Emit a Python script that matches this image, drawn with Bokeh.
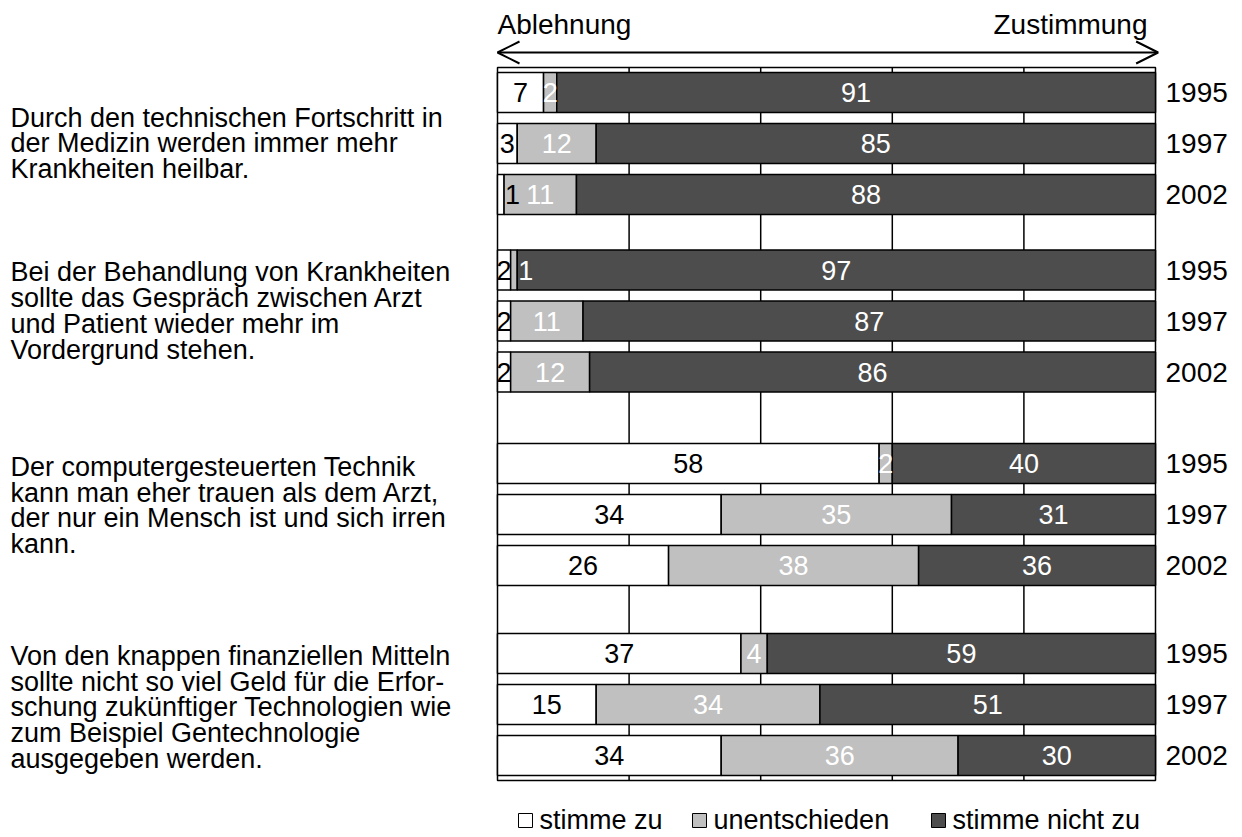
from bokeh.plotting import figure
from bokeh.models import Range1d, ColumnDataSource, Arrow, OpenHead
from bokeh.core.properties import value
from bokeh.embed import file_html
from bokeh.resources import INLINE

# ---------------- data ----------------
statements = [
    "Durch den technischen Fortschritt in\nder Medizin werden immer mehr\nKrankheiten heilbar.",
    "Bei der Behandlung von Krankheiten\nsollte das Gespräch zwischen Arzt\nund Patient wieder mehr im\nVordergrund stehen.",
    "Der computergesteuerten Technik\nkann man eher trauen als dem Arzt,\nder nur ein Mensch ist und sich irren\nkann.",
    "Von den knappen finanziellen Mitteln\nsollte nicht so viel Geld für die Erfor-\nschung zukünftiger Technologien wie\nzum Beispiel Gentechnologie\nausgegeben werden.",
]
years = ["1995", "1997", "2002"]
series = ["stimme zu", "unentschieden", "stimme nicht zu"]
# values per statement, per year
stimme_zu = [[7, 3, 1], [2, 2, 2], [58, 34, 26], [37, 15, 34]]
unentschieden = [[2, 12, 11], [1, 11, 12], [2, 35, 38], [4, 34, 36]]
stimme_nicht_zu = [[91, 85, 88], [97, 87, 86], [40, 31, 36], [59, 51, 30]]
header_left = "Ablehnung"
header_right = "Zustimmung"

# ---------------- style / layout ----------------
W, H = 1242, 837
FONT = value("Liberation Sans")
colors = ["#ffffff", "#c0c0c0", "#4d4d4d"]
text_colors = ["#000000", "#ffffff", "#ffffff"]
X0_PX, X1_PX = 497, 1155          # pixel positions of 0 % and 100 %
PX_PER = (X1_PX - X0_PX) / 100.0
group_first = [92, 269.5, 463, 653]  # pixel centre of first bar in each group
text_shift = [0, -10, -9, 3]         # statement block offset from middle bar
ROW = 51
BAR_H = 40
FRAME_TOP, FRAME_BOT = 67, 780


def px_to_x(px):
    return (px - X0_PX) / PX_PER


p = figure(width=W, height=H, output_backend="svg", toolbar_location=None,
           x_range=Range1d(px_to_x(0), px_to_x(W)), y_range=Range1d(H, 0),
           min_border=0)
p.axis.visible = False
p.grid.visible = False
p.outline_line_color = None
p.background_fill_color = "white"
p.border_fill_color = "white"

# gridlines + frame
for gx in [20, 40, 60, 80]:
    p.segment(x0=[gx], y0=[FRAME_TOP], x1=[gx], y1=[FRAME_BOT], line_color="black", line_width=1.5)
p.quad(left=[0], right=[100], top=[FRAME_TOP], bottom=[FRAME_BOT], fill_color=None,
       line_color="black", line_width=1.5)

# bars
rows = dict(y=[], left=[], right=[], color=[], val=[], tcol=[], tx=[], s=[])
year_rows = dict(y=[], t=[])
stmt_rows = dict(y=[], t=[])
for g in range(len(statements)):
    for i, yr in enumerate(years):
        yc = group_first[g] + i * ROW
        vals = [stimme_zu[g][i], unentschieden[g][i], stimme_nicht_zu[g][i]]
        cum = 0
        for k, v in enumerate(vals):
            rows["y"].append(yc)
            rows["left"].append(cum)
            rows["right"].append(cum + v)
            rows["color"].append(colors[k])
            rows["val"].append(str(v))
            rows["tcol"].append(text_colors[k])
            rows["tx"].append(cum + v / 2.0)
            rows["s"].append(v)
            cum += v
        year_rows["y"].append(yc)
        year_rows["t"].append(yr)
    stmt_rows["y"].append(group_first[g] + ROW + text_shift[g])
    stmt_rows["t"].append(statements[g])

src = ColumnDataSource(rows)
p.hbar(y="y", left="left", right="right", height=BAR_H, fill_color="color",
       line_color="black", line_width=1.5, source=src)

big = {k: [v for v, s in zip(rows[k], rows["s"]) if s > 1] for k in rows}
small = {k: [v for v, s in zip(rows[k], rows["s"]) if s <= 1] for k in rows}
p.text(x="tx", y="y", text="val", text_color="tcol", text_font=FONT, text_font_size="27px",
       text_align="center", text_baseline="middle", source=ColumnDataSource(big))
p.text(x="right", y="y", text="val", text_color="tcol", text_font=FONT, text_font_size="27px",
       text_align="left", text_baseline="middle", x_offset=1, source=ColumnDataSource(small))

# year labels
p.text(x=px_to_x(1165), y="y", text="t", text_font=FONT, text_font_size="28px",
       text_color="black", text_align="left", text_baseline="middle",
       source=ColumnDataSource(year_rows))

# statements
p.text(x=px_to_x(10), y="y", text="t", text_font=FONT, text_font_size="27px",
       text_color="black", text_align="left", text_baseline="middle", text_line_height=0.86,
       source=ColumnDataSource(stmt_rows))

# header arrow and labels
p.add_layout(Arrow(start=OpenHead(size=22, line_width=2), end=OpenHead(size=22, line_width=2),
                   x_start=0, y_start=52, x_end=100.4, y_end=52, line_width=2))
p.text(x=[0], y=[24], text=[header_left], text_font=FONT, text_font_size="28px",
       text_align="left", text_baseline="middle")
p.text(x=[px_to_x(1147)], y=[24], text=[header_right], text_font=FONT, text_font_size="28px",
       text_align="right", text_baseline="middle")

# legend
leg_box_px = [525, 699, 938]
p.scatter(x=[px_to_x(v) for v in leg_box_px], y=[820] * 3, marker="square", size=14,
          fill_color=colors, line_color="black", line_width=1)
p.text(x=[px_to_x(v + 14) for v in leg_box_px], y=[819] * 3, text=series, text_font=FONT,
       text_font_size="27px", text_align="left", text_baseline="middle")

open("out.html", "w").write(file_html(p, INLINE))
